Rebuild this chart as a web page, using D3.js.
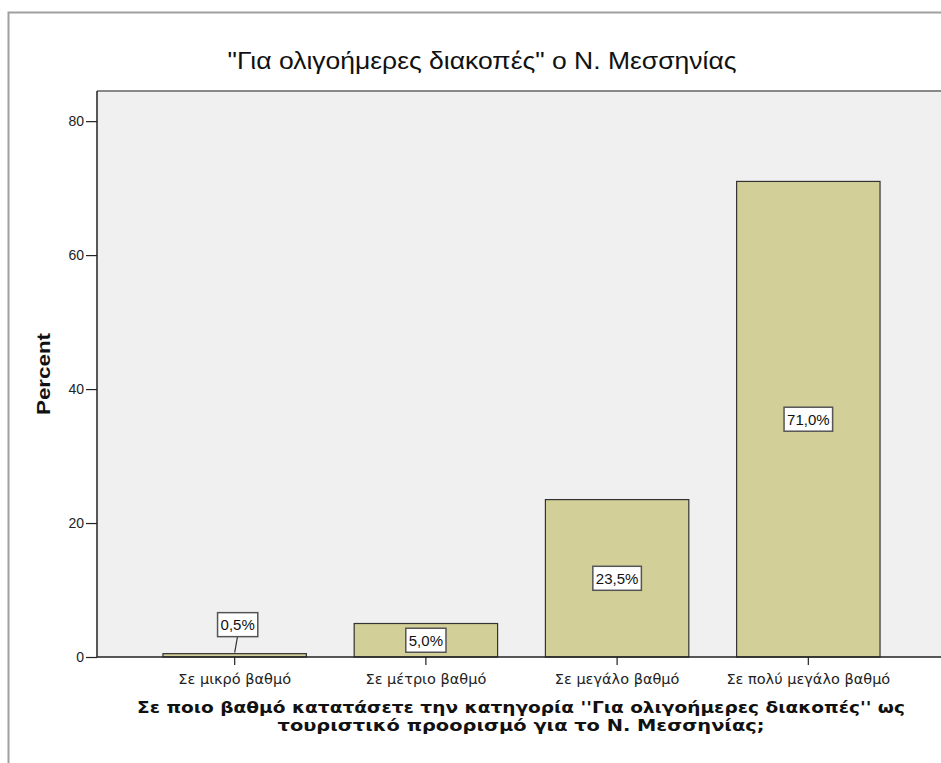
<!DOCTYPE html>
<html>
<head>
<meta charset="utf-8">
<script src="https://cdn.jsdelivr.net/npm/d3@7"></script>
<style>
  body { margin: 0; background: #fff; }
  svg { display: block; }
</style>
</head>
<body>
<svg></svg>
<script>
// data
var categories = ["Σε μικρό βαθμό", "Σε μέτριο βαθμό", "Σε μεγάλο βαθμό", "Σε πολύ μεγάλο βαθμό"];
var percents = [0.5, 5.0, 23.5, 71.0];
var labels = ["0,5%", "5,0%", "23,5%", "71,0%"];
var yTicks = [0, 20, 40, 60, 80];

var title = "\"Για ολιγοήμερες διακοπές\" ο Ν. Μεσσηνίας";
var yTitle = "Percent";
var xTitle = ["Σε ποιο βαθμό κατατάσετε την κατηγορία ''Για ολιγοήμερες διακοπές'' ως",
              "τουριστικό προορισμό για το Ν. Μεσσηνίας;"];

var width = 941, height = 763;
var svg = d3.select('svg').attr('width', width).attr('height', height);

var plot = {left: 97, top: 91, right: 946, bottom: 657};

// outer frame
svg.append("path")
  .attr("d", "M8.5," + height + "V12.5H" + width)
  .attr("fill", "none")
  .attr("stroke", "#a0a0a0")
  .attr("stroke-width", 2);

var x = d3.scaleBand()
  .domain(categories)
  .range([plot.left, plot.right])
  .paddingInner(0.25)
  .paddingOuter(0.345);

var y = d3.scaleLinear()
  .domain([0, 84.5])
  .range([plot.bottom, plot.top]);

// plot background
svg.append("rect")
  .attr("x", plot.left)
  .attr("y", plot.top)
  .attr("width", plot.right - plot.left)
  .attr("height", plot.bottom - plot.top)
  .attr("fill", "#f0f0f0");
svg.append("line")
  .attr("x1", plot.left).attr("x2", plot.right)
  .attr("y1", plot.top).attr("y2", plot.top)
  .attr("stroke", "#888").attr("stroke-width", 2);

// bars
svg.append("g")
  .selectAll("rect")
  .data(percents)
  .enter()
  .append("rect")
  .attr("x", (d, i) => x(categories[i]))
  .attr("y", d => y(d))
  .attr("width", x.bandwidth())
  .attr("height", d => y(0) - y(d))
  .attr("fill", "#d3cf98")
  .attr("stroke", "#333")
  .attr("stroke-width", 1.2);

// axes
var yAxis = svg.append("g")
  .attr("transform", "translate(" + plot.left + ",0)")
  .call(d3.axisLeft(y).tickValues(yTicks).tickSize(11).tickPadding(2));
var xAxis = svg.append("g")
  .attr("transform", "translate(0," + plot.bottom + ")")
  .call(d3.axisBottom(x).tickSize(8).tickPadding(9).tickSizeOuter(0));

[yAxis, xAxis].forEach(function (g) {
  g.select(".domain").attr("stroke", "#222").attr("stroke-width", 1.5);
  g.selectAll(".tick line").attr("stroke", "#222").attr("stroke-width", 1.2);
  g.selectAll(".tick text")
    .attr("fill", "#222");
});
yAxis.selectAll(".tick text")
  .style("font-family", "'Liberation Sans', Arial, sans-serif")
  .style("font-size", "14px");
xAxis.selectAll(".tick text")
  .style("font-family", "'DejaVu Sans', sans-serif")
  .style("font-size", "14.5px");
yAxis.select(".domain").attr("d", "M0," + plot.top + "V" + plot.bottom);
xAxis.select(".domain").attr("d", "M" + plot.left + ",0H" + plot.right);

// value labels
var labelG = svg.append("g");
percents.forEach(function (d, i) {
  var cx = x(categories[i]) + x.bandwidth() / 2;
  var cy = (y(d) + y(0)) / 2;
  var small = (y(0) - y(d)) < 24;
  if (small) {
    var ly = y(d) - 29;
    labelG.append("line")
      .attr("x1", cx + 3).attr("x2", cx)
      .attr("y1", ly + 11).attr("y2", y(d) - 1)
      .attr("stroke", "#333").attr("stroke-width", 1.2);
    cy = ly;
    cx = cx + 3;
  }
  var t = labelG.append("text")
    .attr("x", cx)
    .attr("y", cy)
    .attr("dy", "0.36em")
    .attr("text-anchor", "middle")
    .style("font-family", "'Liberation Sans', Arial, sans-serif")
    .style("font-size", "15px")
    .attr("fill", "#111")
    .text(labels[i]);
  var bb = t.node().getBBox();
  labelG.insert("rect", "text")
    .attr("x", bb.x - 3)
    .attr("y", cy - 12)
    .attr("width", bb.width + 6)
    .attr("height", 24)
    .attr("fill", "#fff")
    .attr("stroke", "#555")
    .attr("stroke-width", 1.5);
});

// titles
svg.append("text")
  .attr("x", 482)
  .attr("y", 69)
  .attr("text-anchor", "middle")
  .attr("textLength", 509)
  .attr("lengthAdjust", "spacingAndGlyphs")
  .style("font-family", "'Liberation Sans', Arial, sans-serif")
  .style("font-size", "23px")
  .attr("fill", "#111")
  .text(title);

svg.append("text")
  .attr("transform", "translate(50,374) rotate(-90)")
  .attr("text-anchor", "middle")
  .attr("textLength", 82)
  .attr("lengthAdjust", "spacingAndGlyphs")
  .style("font-family", "'Liberation Sans', Arial, sans-serif")
  .style("font-size", "19px")
  .style("font-weight", "bold")
  .attr("fill", "#111")
  .text(yTitle);

var xTitleWidths = [768, 487];
svg.append("g")
  .selectAll("text")
  .data(xTitle)
  .enter()
  .append("text")
  .attr("x", 521)
  .attr("y", (d, i) => 713 + i * 18)
  .attr("text-anchor", "middle")
  .attr("textLength", (d, i) => xTitleWidths[i])
  .attr("lengthAdjust", "spacingAndGlyphs")
  .style("font-family", "'DejaVu Sans', sans-serif")
  .style("font-size", "16.5px")
  .style("font-weight", "bold")
  .attr("fill", "#111")
  .text(d => d);
</script>
</body>
</html>
